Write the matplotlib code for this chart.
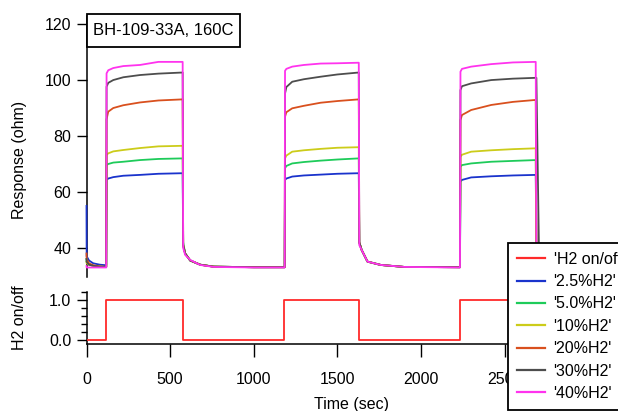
import matplotlib
matplotlib.use("Agg")
import matplotlib.pyplot as plt
from matplotlib.lines import Line2D
from matplotlib.patches import Rectangle
from matplotlib.ticker import FixedLocator, MultipleLocator

plt.rcParams["font.family"] = ["Liberation Sans", "DejaVu Sans"]

# time grid (sec) shared by the response traces
t_resp = [0, 1, 15, 40, 80, 118,
          120, 130, 160, 220, 320, 430, 575,
          578, 590, 620, 680, 760, 1000, 1185,
          1187, 1195, 1230, 1300, 1400, 1500, 1628,
          1631, 1645, 1680, 1760, 1900, 2233,
          2236, 2245, 2300, 2420, 2550, 2686,
          2690, 2705, 2740, 2800, 2900, 3150]

# response (ohm) for each H2 concentration
r_2p5 = [55, 37, 35.5, 34.5, 34, 33.8,
         64.3, 64.8, 65.3, 65.8, 66.1, 66.5, 66.7,
         41, 38, 35.5, 34, 33.3, 33.1, 33.1,
         64.3, 64.8, 65.5, 65.9, 66.2, 66.5, 66.7,
         42, 39.3, 35.1, 33.9, 33.2, 33.1,
         63.7, 64.3, 65.2, 65.6, 65.9, 66.1,
         41, 39, 35.5, 34, 33.3, 33.1]
r_5 = [36, 35, 34, 33.6, 33.3, 33.2,
       69.6, 70.0, 70.5, 70.8, 71.4, 71.8, 72.0,
       42, 38, 35.5, 34, 33.3, 33.1, 33.1,
       68.5, 69.3, 70.2, 70.7, 71.2, 71.6, 72.0,
       42, 39.3, 35.1, 33.9, 33.2, 33.1,
       69.0, 69.6, 70.2, 70.8, 71.1, 71.4,
       41, 39, 35.5, 34, 33.3, 33.1]
r_10 = [35, 34.5, 34, 33.6, 33.3, 33.2,
        73.2, 73.8, 74.5, 75.0, 75.7, 76.3, 76.5,
        41, 38, 35.5, 34, 33.3, 33.1, 33.1,
        72.0, 73.0, 74.4, 74.9, 75.4, 75.8, 76.0,
        42, 39.3, 35.1, 33.9, 33.2, 33.1,
        72.6, 73.3, 74.4, 74.9, 75.3, 75.6,
        41, 39, 35.5, 34, 33.3, 33.1]
r_20 = [38, 36, 34.5, 33.8, 33.4, 33.2,
        86.0, 88.7, 90.0, 91.0, 92.0, 92.7, 93.1,
        41, 38, 35.5, 34, 33.3, 33.1, 33.1,
        86.9, 88.5, 89.9, 90.8, 91.9, 92.5, 93.1,
        42, 39.3, 35.1, 33.9, 33.2, 33.1,
        85.7, 87.5, 89.3, 91.1, 92.2, 92.9,
        41, 39, 35.5, 34, 33.3, 33.1]
r_30 = [36, 35, 34, 33.6, 33.3, 33.2,
        97.6, 99.0, 100.0, 101.0, 101.8, 102.3, 102.7,
        41, 38, 35.5, 34, 33.3, 33.1, 33.1,
        95.2, 97.5, 99.4, 100.3, 101.2, 102.0, 102.7,
        42, 39.3, 35.1, 33.9, 33.2, 33.1,
        96.4, 97.8, 98.8, 100.0, 100.5, 100.8,
        100.8, 41, 36, 34, 33.3, 33.1]
r_40 = [33.5, 33, 33, 33, 33, 33,
        102.4, 103.5, 104.3, 105.0, 105.4, 106.5, 106.5,
        40, 37.5, 35.7, 33.9, 33.2, 33.0, 33.0,
        103.3, 104.0, 104.8, 105.4, 105.9, 106.0, 106.2,
        41, 39.3, 35.1, 33.9, 33.2, 33.0,
        103.0, 104.0, 104.8, 105.7, 106.3, 106.5,
        41, 39, 35.5, 34, 33.3, 33.0]

# H2 valve state (step changes)
t_h2 = [0, 118, 575, 1181, 1629, 2231, 2690, 3150]
h2_state = [0, 1, 0, 1, 0, 1, 0, 0]

labels = ["'H2 on/off'", "'2.5%H2'", "'5.0%H2'", "'10%H2'", "'20%H2'", "'30%H2'", "'40%H2'"]
colors = ["#ff2a2a", "#1a33cc", "#1ecb5a", "#cccc1a", "#d9501e", "#4d4d4d", "#ff33ee"]

W, H = 618, 411
fig = plt.figure(figsize=(W / 100, H / 100), dpi=100)
fs = 11.5

x0, x1 = 86.5, 615
ax1 = fig.add_axes([x0 / W, 1 - 277 / H, (x1 - x0) / W, (277 - 16) / H])
ax2 = fig.add_axes([x0 / W, 1 - 344 / H, (x1 - x0) / W, (344 - 292) / H])

series = [r_2p5, r_5, r_10, r_20, r_30, r_40]
for vals, c in zip(series, colors[1:]):
    ax1.plot(t_resp, vals, color=c, lw=1.3, zorder=3, clip_on=False)
ax2.plot(t_h2, h2_state, color=colors[0], lw=1.3, drawstyle="steps-post", zorder=3)

ax1.set_xlim(0, 3160)
ax1.set_ylim(29.6, 122.9)
ax2.set_xlim(0, 3160)
ax2.set_ylim(-0.1, 1.2)

for sp in ["top", "right", "bottom"]:
    ax1.spines[sp].set_visible(False)
for sp in ["top", "right"]:
    ax2.spines[sp].set_visible(False)
for ax in (ax1, ax2):
    for sp in ax.spines.values():
        sp.set_linewidth(1.1)

ax1.set_xticks([])
ax1.set_yticks([40, 60, 80, 100, 120])
ax1.tick_params(axis="y", length=7, width=1, pad=4, labelsize=fs)

ax2.yaxis.set_major_locator(FixedLocator([0, 1]))
ax2.yaxis.set_minor_locator(MultipleLocator(0.2))
ax2.set_yticklabels(["0.0", "1.0"])
ax2.set_xticks([0, 500, 1000, 1500, 2000, 2500])
ax2.tick_params(axis="y", which="major", length=7, width=1, pad=4, labelsize=fs)
ax2.tick_params(axis="y", which="minor", length=4, width=1)
ax2.tick_params(axis="x", length=9, width=1, pad=11, labelsize=fs)

fig.text(20 / W, 1 - 160 / H, "Response (ohm)", rotation=90, ha="center", va="center", fontsize=fs)
fig.text(20 / W, 1 - 318 / H, "H2 on/off", rotation=90, ha="center", va="center", fontsize=fs)
fig.text(351 / W, 1 - 404 / H, "Time (sec)", ha="center", va="center", fontsize=fs)

# sample tag box
fig.add_artist(Rectangle((87 / W, 1 - 47 / H), 153 / W, 33 / H, transform=fig.transFigure,
                         fc="white", ec="black", lw=1.3, zorder=4))
fig.text(163.5 / W, 1 - 30.5 / H, "BH-109-33A, 160C", ha="center", va="center", fontsize=12, zorder=5)

handles = [Line2D([], [], color=c, lw=1.6) for c in colors]
leg = fig.legend(handles, labels, loc="upper left", bbox_to_anchor=(508 / W, 1 - 243 / H),
                 bbox_transform=fig.transFigure, borderaxespad=0, fancybox=False, framealpha=1,
                 edgecolor="black", fontsize=fs, handlelength=1.75, handletextpad=0.55,
                 labelspacing=0.46, borderpad=0.55)
leg.get_frame().set_linewidth(1.3)

fig.savefig("out.png", dpi=100)
